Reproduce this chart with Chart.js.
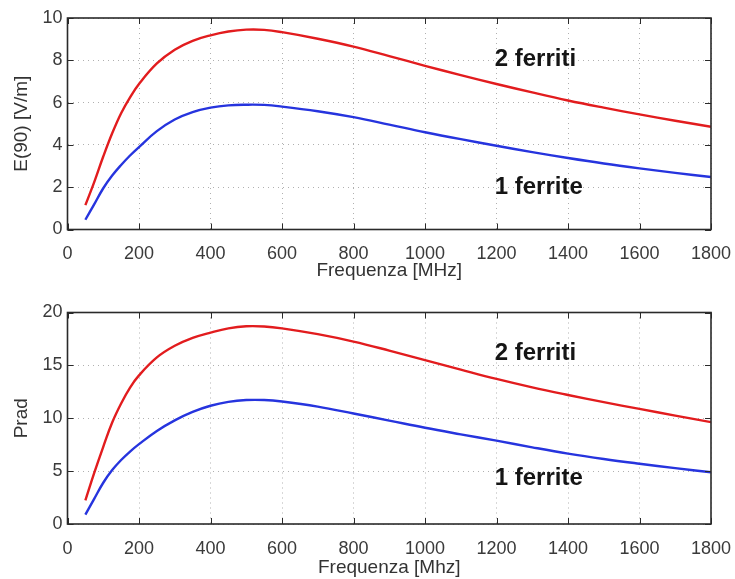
<!DOCTYPE html>
<html>
<head>
<meta charset="utf-8">
<script src="https://cdn.jsdelivr.net/npm/chart.js@4.4.1/dist/chart.umd.min.js"></script>
<style>
  html, body { margin: 0; padding: 0; background: #fff; }
  #wrap { position: relative; width: 735px; height: 579px; }
  canvas { position: absolute; left: 0; }
  #c1 { top: 0; }
  #c2 { top: 290px; }
</style>
</head>
<body>
<div id="wrap">
  <canvas id="c1" width="735" height="290"></canvas>
  <canvas id="c2" width="735" height="289"></canvas>
</div>
<script>
// Frequency samples (MHz)
const freqs = [50, 75, 100, 125, 150, 175, 200, 250, 300, 350, 400, 450, 500, 550, 600,
               700, 800, 900, 1000, 1100, 1200, 1300, 1400, 1500, 1600, 1700, 1800];

// Field strength E(90) [V/m]
const e2ferriti = [1.15, 2.25, 3.45, 4.55, 5.5, 6.25, 6.88, 7.85, 8.5, 8.92, 9.18, 9.36, 9.45, 9.44, 9.33,
                   9.02, 8.65, 8.2, 7.74, 7.3, 6.88, 6.48, 6.1, 5.76, 5.44, 5.14, 4.86];
const e1ferrite = [0.46, 1.2, 1.95, 2.55, 3.05, 3.5, 3.9, 4.65, 5.2, 5.55, 5.76, 5.87, 5.9, 5.89, 5.81,
                   5.59, 5.31, 4.96, 4.6, 4.27, 3.96, 3.66, 3.38, 3.12, 2.89, 2.68, 2.48];

// Radiated power Prad
const p2ferriti = [2.23, 4.85, 7.3, 9.6, 11.4, 12.9, 14.05, 15.75, 16.85, 17.6, 18.1, 18.5, 18.7, 18.68, 18.5,
                   17.95, 17.25, 16.4, 15.5, 14.6, 13.72, 12.92, 12.2, 11.52, 10.88, 10.25, 9.63];
const p1ferrite = [0.88, 2.4, 3.9, 5.1, 6.05, 6.85, 7.55, 8.8, 9.8, 10.6, 11.18, 11.55, 11.72, 11.72, 11.58,
                   11.1, 10.45, 9.78, 9.1, 8.48, 7.88, 7.25, 6.66, 6.15, 5.7, 5.28, 4.9];

// Axis ticks
const xTicks = [0, 200, 400, 600, 800, 1000, 1200, 1400, 1600, 1800];
const eTicks = [0, 2, 4, 6, 8, 10];
const pTicks = [0, 5, 10, 15, 20];

const seriesNames = ['2 ferriti', '1 ferrite'];

const RED = 'rgb(226, 28, 30)';
const BLUE = 'rgb(38, 52, 222)';
const FONT = '"Liberation Sans", Arial, Helvetica, sans-serif';

const toPoints = (ys) => freqs.map((f, i) => ({ x: f, y: ys[i] }));

// Plot frame plus inward tick marks on all four sides
const framePlugin = {
  id: 'frame',
  afterDraw(chart, args, opts) {
    const { ctx, chartArea: a, scales } = chart;
    const len = 6;
    ctx.save();
    ctx.strokeStyle = '#2a2a2a';
    ctx.lineWidth = 1;
    ctx.beginPath();
    opts.xTicks.forEach(v => {
      const px = Math.round(scales.x.getPixelForValue(v)) + 0.5;
      ctx.moveTo(px, a.bottom); ctx.lineTo(px, a.bottom - len);
      ctx.moveTo(px, a.top); ctx.lineTo(px, a.top + len);
    });
    opts.yTicks.forEach(v => {
      const py = Math.round(scales.y.getPixelForValue(v)) + 0.5;
      ctx.moveTo(a.left, py); ctx.lineTo(a.left + len, py);
      ctx.moveTo(a.right, py); ctx.lineTo(a.right - len, py);
    });
    ctx.stroke();
    ctx.lineWidth = 1.6;
    ctx.strokeRect(a.left, a.top, a.right - a.left, a.bottom - a.top);
    ctx.restore();
  }
};

// Series labels placed in data space
const seriesLabelPlugin = {
  id: 'seriesLabels',
  afterDatasetsDraw(chart, args, opts) {
    const { ctx, scales } = chart;
    ctx.save();
    ctx.font = 'bold 24px ' + FONT;
    ctx.fillStyle = '#151515';
    ctx.textAlign = 'left';
    ctx.textBaseline = 'middle';
    opts.items.forEach(it => {
      ctx.fillText(it.text, scales.x.getPixelForValue(it.x), scales.y.getPixelForValue(it.y));
    });
    ctx.restore();
  }
};

function makeChart(canvasId, cfg) {
  return new Chart(document.getElementById(canvasId), {
    type: 'line',
    data: {
      datasets: [
        { label: seriesNames[0], data: toPoints(cfg.red), borderColor: RED },
        { label: seriesNames[1], data: toPoints(cfg.blue), borderColor: BLUE }
      ]
    },
    options: {
      responsive: false,
      animation: false,
      devicePixelRatio: 1,
      layout: { padding: { top: cfg.padTop, right: 24, left: 0, bottom: 0 } },
      elements: {
        point: { radius: 0 },
        line: { borderWidth: 2.4, tension: 0.4, fill: false }
      },
      plugins: {
        legend: { display: false },
        tooltip: { enabled: false },
        frame: { xTicks: xTicks, yTicks: cfg.yTicks },
        seriesLabels: { items: cfg.labels }
      },
      scales: {
        x: {
          type: 'linear',
          min: 0, max: 1800,
          afterBuildTicks: (s) => { s.ticks = xTicks.map(v => ({ value: v })); },
          afterFit: (s) => { s.height = cfg.xHeight; s.paddingLeft = 0; s.paddingRight = 0; },
          grid: { color: '#b0b0b0', lineWidth: 1, drawTicks: false },
          border: { display: false, dash: [1, 4] },
          ticks: { padding: 14, color: '#3a3a3a', font: { family: FONT, size: 18 }, maxRotation: 0,
                   callback: (v) => String(v) },
          title: { display: true, text: cfg.xTitle, color: '#333', font: { family: FONT, size: 19 },
                   padding: { top: 0, bottom: cfg.xTitlePad } }
        },
        y: {
          type: 'linear',
          min: 0, max: cfg.yMax,
          afterBuildTicks: (s) => { s.ticks = cfg.yTicks.map(v => ({ value: v })); },
          afterFit: (s) => { s.width = 67.5; s.paddingTop = 0; s.paddingBottom = 0; },
          grid: { color: '#b0b0b0', lineWidth: 1, drawTicks: false },
          border: { display: false, dash: [1, 4] },
          ticks: { padding: 5, color: '#3a3a3a', font: { family: FONT, size: 18 },
                   callback: (v) => String(v) },
          title: { display: true, text: cfg.yTitle, color: '#333', font: { family: FONT, size: 19 },
                   padding: { top: 10, bottom: 0 } }
        }
      }
    },
    plugins: [framePlugin, seriesLabelPlugin]
  });
}

makeChart('c1', {
  red: e2ferriti, blue: e1ferrite,
  yMax: 10, yTicks: eTicks,
  padTop: 18, xHeight: 60.5, xTitlePad: 8,
  xTitle: 'Frequenza [MHz]', yTitle: 'E(90) [V/m]',
  labels: [{ text: '2 ferriti', x: 1195, y: 8.05 }, { text: '1 ferrite', x: 1195, y: 2.0 }]
});

makeChart('c2', {
  red: p2ferriti, blue: p1ferrite,
  yMax: 20, yTicks: pTicks,
  padTop: 22.5, xHeight: 55, xTitlePad: 0,
  xTitle: 'Frequenza [Mhz]', yTitle: 'Prad',
  labels: [{ text: '2 ferriti', x: 1195, y: 16.1 }, { text: '1 ferrite', x: 1195, y: 4.3 }]
});
</script>
</body>
</html>
